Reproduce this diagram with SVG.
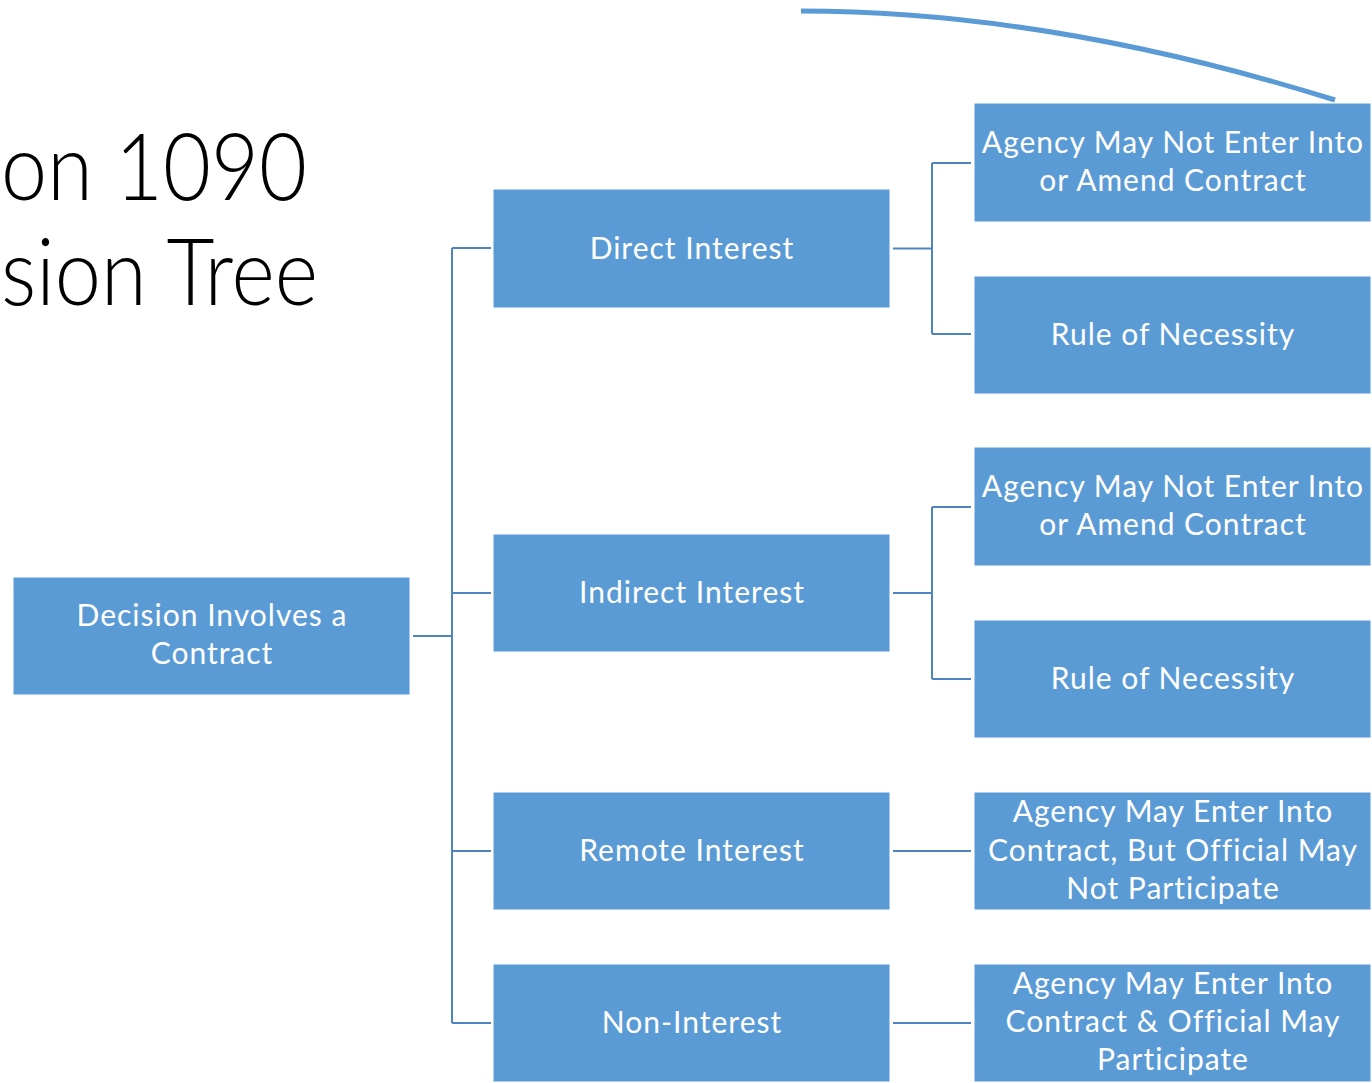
<svg xmlns="http://www.w3.org/2000/svg" width="1372" height="1083" viewBox="0 0 1372 1083">
<style>
.box{fill:#5B9BD5;stroke:#FFFFFF;stroke-width:1;}
.lbl{font-family:Lato,"Open Sans","Liberation Sans",sans-serif;font-size:30px;letter-spacing:1px;fill:#FFFFFF;text-anchor:middle;}
.title{font-family:Lato,"Open Sans","Liberation Sans",sans-serif;font-weight:300;font-size:92px;fill:#000000;text-anchor:start;}
.con{fill:none;stroke:#4E85BF;stroke-width:2;}
</style>
<rect width="1372" height="1083" fill="#FFFFFF"/>
<path d="M 801 11 Q 1050 11 1335 100" fill="none" stroke="#5B9BD5" stroke-width="5"/>
<g id="title">
<text class="title" x="1" y="200" textLength="306" lengthAdjust="spacingAndGlyphs">on 1090</text>
<text class="title" x="1" y="305" textLength="317" lengthAdjust="spacingAndGlyphs">sion Tree</text>
</g>
<g id="connectors">
<path class="con" d="M 413 636 H 452"/>
<path class="con" d="M 452 248 V 1023"/>
<path class="con" d="M 452 248 H 491 M 452 593 H 491 M 452 851 H 491 M 452 1023 H 491"/>
<path class="con" d="M 893 248.5 H 932 M 932 163 V 334 M 932 163 H 971 M 932 334 H 971"/>
<path class="con" d="M 893 593 H 932 M 932 507 V 679 M 932 507 H 971 M 932 679 H 971"/>
<path class="con" d="M 893 851 H 971" stroke-width="3"/>
<path class="con" d="M 893 1023 H 971" stroke-width="3"/>
</g>
<g id="root">
<rect class="box" x="13" y="577" width="397" height="118"/>
<text class="lbl" x="212" y="626">Decision Involves a</text>
<text class="lbl" x="212" y="664">Contract</text>
</g>
<g id="direct">
<rect class="box" x="493" y="189" width="397" height="119"/>
<text class="lbl" x="692" y="259">Direct Interest</text>
</g>
<g id="indirect">
<rect class="box" x="493" y="534" width="397" height="118"/>
<text class="lbl" x="692" y="603">Indirect Interest</text>
</g>
<g id="remote">
<rect class="box" x="493" y="792" width="397" height="118"/>
<text class="lbl" x="692" y="861">Remote Interest</text>
</g>
<g id="noninterest">
<rect class="box" x="493" y="964" width="397" height="118"/>
<text class="lbl" x="692" y="1033">Non-Interest</text>
</g>
<g id="direct-agency">
<rect class="box" x="974" y="103" width="397" height="119"/>
<text class="lbl" x="1173" y="153">Agency May Not Enter Into</text>
<text class="lbl" x="1173" y="191">or Amend Contract</text>
</g>
<g id="direct-necessity">
<rect class="box" x="974" y="276" width="397" height="118"/>
<text class="lbl" x="1173" y="345">Rule of Necessity</text>
</g>
<g id="indirect-agency">
<rect class="box" x="974" y="447" width="397" height="119"/>
<text class="lbl" x="1173" y="497">Agency May Not Enter Into</text>
<text class="lbl" x="1173" y="535">or Amend Contract</text>
</g>
<g id="indirect-necessity">
<rect class="box" x="974" y="620" width="397" height="118"/>
<text class="lbl" x="1173" y="689">Rule of Necessity</text>
</g>
<g id="remote-result">
<rect class="box" x="974" y="792" width="397" height="118"/>
<text class="lbl" x="1173" y="822">Agency May Enter Into</text>
<text class="lbl" x="1173" y="861">Contract, But Official May</text>
<text class="lbl" x="1173" y="899">Not Participate</text>
</g>
<g id="noninterest-result">
<rect class="box" x="974" y="964" width="397" height="118"/>
<text class="lbl" x="1173" y="994">Agency May Enter Into</text>
<text class="lbl" x="1173" y="1032">Contract &amp; Official May</text>
<text class="lbl" x="1173" y="1070">Participate</text>
</g>
</svg>
